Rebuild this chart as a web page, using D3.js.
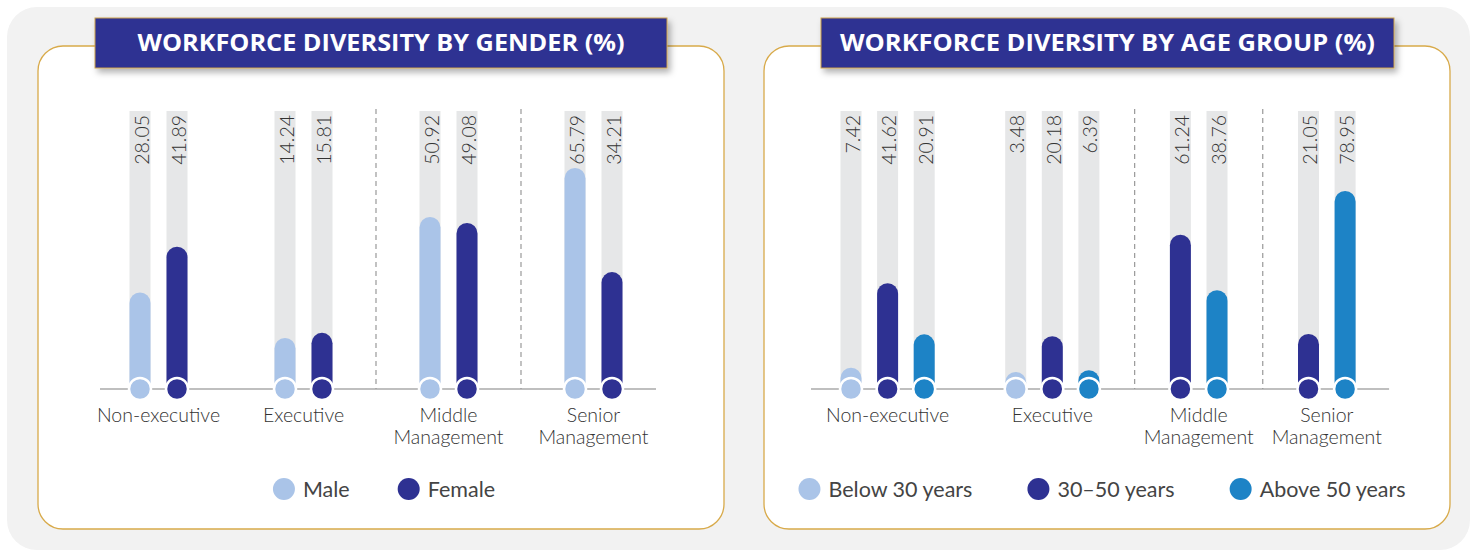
<!DOCTYPE html>
<html>
<head>
<meta charset="utf-8">
<script src="https://cdn.jsdelivr.net/npm/d3@7"></script>
<style>
  html, body { margin: 0; padding: 0; background: #fff; }
  svg { display: block; font-family: Lato, "Open Sans", sans-serif; }
</style>
</head>
<body>
<div id="chart"></div>
<script>
// categories (shared by both panels)
const categories = ["Non-executive", "Executive", "Middle Management", "Senior Management"];

// gender panel
const genderSeries = ["Male", "Female"];
const maleValues = [28.05, 14.24, 50.92, 65.79];
const femaleValues = [41.89, 15.81, 49.08, 34.21];

// age group panel
const ageSeries = ["Below 30 years", "30–50 years", "Above 50 years"];
const below30Values = [7.42, 3.48, null, null];
const age3050Values = [41.62, 20.18, 61.24, 21.05];
const above50Values = [20.91, 6.39, 38.76, 78.95];

const W = 1473, H = 556;
const svg = d3.select("#chart").append("svg")
  .attr("width", W)
  .attr("height", H);

const defs = svg.append("defs");
const shadow = defs.append("filter").attr("id", "shadow")
  .attr("x", "-10%").attr("y", "-30%").attr("width", "120%").attr("height", "170%");
shadow.append("feDropShadow")
  .attr("dx", 3).attr("dy", 4).attr("stdDeviation", 3)
  .attr("flood-color", "#000").attr("flood-opacity", 0.3);

// outer grey panel
svg.append("rect")
  .attr("x", 7).attr("y", 7)
  .attr("width", 1463).attr("height", 543)
  .attr("rx", 30)
  .attr("fill", "#f2f2f2");

const navy = "#2e3192", light = "#aac4e8", blue = "#1d83c6", gold = "#d8aa4a";
const baseY = 389, trackTop = 111;

function drawPanel(cfg) {
  const g = svg.append("g");

  // card
  g.append("rect")
    .attr("x", cfg.cardX).attr("y", 46)
    .attr("width", 686).attr("height", 483)
    .attr("rx", 25)
    .attr("fill", "#fff")
    .attr("stroke", gold)
    .attr("stroke-width", 1.3);

  // title box
  g.append("rect")
    .attr("x", cfg.titleX).attr("y", 18)
    .attr("width", cfg.titleW).attr("height", 50)
    .attr("fill", navy)
    .attr("stroke", "#c9a04a")
    .attr("stroke-width", 1)
    .attr("filter", "url(#shadow)");
  g.append("text")
    .attr("x", cfg.titleX + cfg.titleW / 2)
    .attr("y", 51)
    .attr("text-anchor", "middle")
    .attr("fill", "#fff")
    .attr("font-family", "'Open Sans', sans-serif")
    .attr("font-weight", 700)
    .attr("font-size", 23)
    .attr("textLength", cfg.titleTextW)
    .attr("lengthAdjust", "spacingAndGlyphs")
    .text(cfg.title);

  // bar slots: cumulative position, one unit per bar plus a gap between groups
  const bars = [];
  const groups = [];
  let slot = 0;
  categories.forEach((cat, ci) => {
    const members = [];
    cfg.series.forEach((s, si) => {
      const v = s.values[ci];
      if (v == null) return;
      const b = { cat, ci, name: s.name, color: s.color, value: v, slot };
      bars.push(b); members.push(b);
      slot += 1;
    });
    groups.push({ cat, ci, members });
    slot += cfg.gapUnits;
  });

  const x = d3.scaleLinear().domain([0, 1]).range([cfg.x0, cfg.x0 + cfg.step]);
  const y = d3.scaleLinear().domain([0, 100]).range(cfg.yRange);
  const bw = 21;
  const mid = gr => (x(gr.members[0].slot) + x(gr.members[gr.members.length - 1].slot)) / 2;

  // baseline
  g.append("line")
    .attr("x1", x(bars[0].slot) - 40)
    .attr("x2", x(bars[bars.length - 1].slot) + 44)
    .attr("y1", baseY).attr("y2", baseY)
    .attr("stroke", "#aaa")
    .attr("stroke-width", 1.5);

  // dashed separators between the management groups
  const seps = groups.slice(2).map((gr, i) => {
    const prev = groups[i + 1].members;
    return (x(prev[prev.length - 1].slot) + x(gr.members[0].slot)) / 2;
  });
  g.selectAll("line.sep").data(seps)
    .join("line")
    .attr("class", "sep")
    .attr("x1", d => d).attr("x2", d => d)
    .attr("y1", trackTop - 2).attr("y2", baseY)
    .attr("stroke", "#999")
    .attr("stroke-width", 1.2)
    .attr("stroke-dasharray", "5,4");

  // grey tracks
  g.selectAll("rect.track").data(bars)
    .join("rect")
    .attr("class", "track")
    .attr("x", d => x(d.slot) - bw / 2)
    .attr("y", trackTop)
    .attr("width", bw)
    .attr("height", baseY - trackTop)
    .attr("fill", "#e6e7e8");

  // value bars with rounded tops
  g.selectAll("path.bar").data(bars)
    .join("path")
    .attr("class", "bar")
    .attr("fill", d => d.color)
    .attr("d", d => {
      const cx = x(d.slot), r = bw / 2;
      const top = Math.min(y(d.value), baseY - 17);
      return `M${cx - r},${baseY} V${top + r} A${r},${r} 0 0 1 ${cx + r},${top + r} V${baseY} Z`;
    });

  // baseline dots
  g.selectAll("circle.dot").data(bars)
    .join("circle")
    .attr("class", "dot")
    .attr("cx", d => x(d.slot))
    .attr("cy", baseY)
    .attr("r", 11)
    .attr("fill", d => d.color)
    .attr("stroke", "#fff")
    .attr("stroke-width", 2.5);

  // value labels
  g.selectAll("text.val").data(bars)
    .join("text")
    .attr("class", "val")
    .attr("transform", d => `translate(${x(d.slot) + 8.5},${trackTop + 4}) rotate(-90)`)
    .attr("text-anchor", "end")
    .attr("fill", "#333")
    .attr("font-weight", 300)
    .attr("font-size", 19.5)
    .text(d => d.value.toFixed(2));

  // category labels
  const catText = g.selectAll("text.cat").data(groups)
    .join("text")
    .attr("class", "cat")
    .attr("x", mid)
    .attr("y", 422)
    .attr("text-anchor", "middle")
    .attr("fill", "#333")
    .attr("font-weight", 300)
    .attr("font-size", 19.5);
  catText.selectAll("tspan")
    .data(d => d.cat.split(" ").map(w => ({ w, xx: mid(d) })))
    .join("tspan")
    .attr("x", d => d.xx)
    .attr("dy", (d, i) => i ? 22 : 0)
    .text(d => d.w);

  // legend, centred on the card
  const leg = g.append("g");
  let lx = 0;
  cfg.series.forEach(s => {
    const item = leg.append("g").attr("transform", `translate(${lx},0)`);
    item.append("circle").attr("cx", 11).attr("cy", 489).attr("r", 11).attr("fill", s.color);
    const t = item.append("text")
      .attr("x", 30).attr("y", 496.5)
      .attr("fill", "#444")
      .attr("font-size", 21.5)
      .text(s.name);
    lx += 30 + t.node().getComputedTextLength() + cfg.legendGap;
  });
  const legW = lx - cfg.legendGap;
  leg.attr("transform", `translate(${cfg.cardX + 343 - legW / 2 + cfg.legendShift},0)`);
}

drawPanel({
  cardX: 38, titleX: 95, titleW: 572, titleTextW: 487,
  title: "WORKFORCE DIVERSITY BY GENDER (%)",
  series: [
    { name: genderSeries[0], values: maleValues, color: light },
    { name: genderSeries[1], values: femaleValues, color: navy }
  ],
  x0: 140, step: 37, gapUnits: 71 / 37,
  yRange: [baseY - 4, baseY - 4 - 330],
  legendGap: 48, legendShift: 3
});

drawPanel({
  cardX: 764, titleX: 821, titleW: 573, titleTextW: 535,
  title: "WORKFORCE DIVERSITY BY AGE GROUP (%)",
  series: [
    { name: ageSeries[0], values: below30Values, color: light },
    { name: ageSeries[1], values: age3050Values, color: navy },
    { name: ageSeries[2], values: above50Values, color: blue }
  ],
  x0: 851, step: 36.6, gapUnits: 1.5,
  yRange: [baseY - 3, baseY - 3 - 247],
  legendGap: 55, legendShift: -5
});
</script>
</body>
</html>
